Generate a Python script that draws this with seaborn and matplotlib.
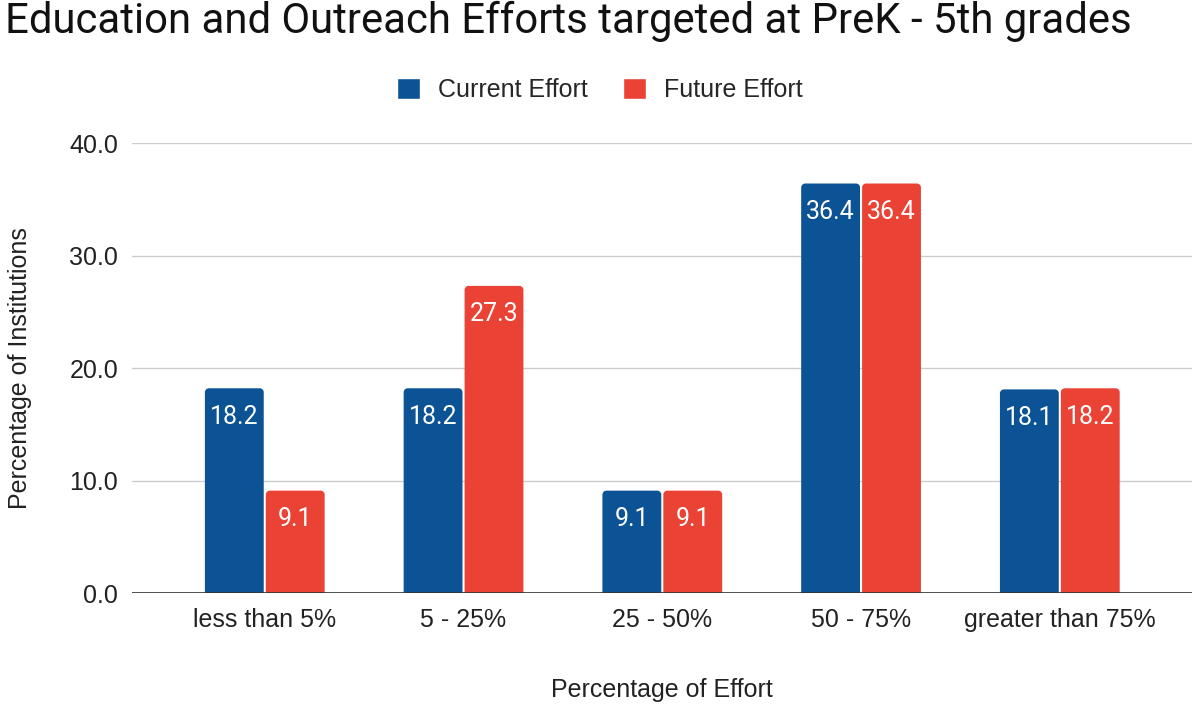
import matplotlib
matplotlib.use("Agg")
import matplotlib.pyplot as plt
from matplotlib.path import Path
from matplotlib.patches import PathPatch
import seaborn as sns
import pandas as pd

categories = ["less than 5%", "5 - 25%", "25 - 50%", "50 - 75%", "greater than 75%"]
current_effort = [18.2, 18.2, 9.1, 36.4, 18.1]
future_effort = [9.1, 27.3, 9.1, 36.4, 18.2]
series_names = ["Current Effort", "Future Effort"]
y_ticks = [0, 10, 20, 30, 40]

df = pd.DataFrame({
    "category": categories * 2,
    "value": current_effort + future_effort,
    "series": [series_names[0]] * len(categories) + [series_names[1]] * len(categories),
})

sns.set_theme(style="white")
plt.rcParams["font.family"] = ["Roboto", "DejaVu Sans"]
ARIAL = ["Liberation Sans", "DejaVu Sans"]

fig = plt.figure(figsize=(12, 7.08), dpi=100)
ax = fig.add_axes([0.11, 0.1624, 0.883, 0.6356])

palette = {"Current Effort": "#0b5394", "Future Effort": "#ea4335"}
sns.barplot(data=df, x="category", y="value", hue="series", order=categories,
            hue_order=series_names, palette=palette, width=0.613, gap=0.034,
            saturation=1, ax=ax, legend=True)

ax.set_ylim(0, 40)
ax.set_xlim(-0.668, 4.663)
ax.set_yticks(y_ticks)
ax.set_yticklabels([f"{t:.1f}" for t in y_ticks], fontsize=18, color="#222222",
                   family=ARIAL)
for lab in ax.get_xticklabels():
    lab.set_family(ARIAL)
ax.tick_params(axis="x", labelsize=18, colors="#222222", length=0, pad=11)
ax.tick_params(axis="y", length=0, pad=10)
ax.grid(axis="y", color="#cccccc", linewidth=1)
ax.set_axisbelow(True)
for s in ax.spines.values():
    s.set_visible(False)
ax.axhline(0, color="#333333", linewidth=1.2, zorder=5)

# rounded top corners for bars
fig.canvas.draw()
bb = ax.get_window_extent()
x0, x1 = ax.get_xlim()
y0, y1 = ax.get_ylim()
r_px = 4.0
rx = r_px * (x1 - x0) / bb.width
ry = r_px * (y1 - y0) / bb.height
k = 0.5523
for cont in ax.containers:
    for p in cont.patches:
        x, y, w, h = p.get_x(), p.get_y(), p.get_width(), p.get_height()
        verts = [(x, y), (x, y + h - ry),
                 (x, y + h - ry + k * ry), (x + rx - k * rx, y + h), (x + rx, y + h),
                 (x + w - rx, y + h),
                 (x + w - rx + k * rx, y + h), (x + w, y + h - ry + k * ry), (x + w, y + h - ry),
                 (x + w, y), (x, y)]
        codes = [Path.MOVETO, Path.LINETO,
                 Path.CURVE4, Path.CURVE4, Path.CURVE4,
                 Path.LINETO,
                 Path.CURVE4, Path.CURVE4, Path.CURVE4,
                 Path.LINETO, Path.CLOSEPOLY]
        pp = PathPatch(Path(verts, codes), facecolor=p.get_facecolor(),
                       edgecolor="none", zorder=p.get_zorder())
        ax.add_patch(pp)
        p.set_visible(False)

for cont in ax.containers:
    ax.bar_label(cont, fmt="%.1f", label_type="edge", padding=-29,
                 color="white", fontsize=18)

ax.set_xlabel("Percentage of Effort", fontsize=18, color="#222222", labelpad=33,
              family=ARIAL)
ax.set_ylabel("Percentage of Institutions", fontsize=18, color="#222222", labelpad=27,
              family=ARIAL)

ax.legend(loc="center", bbox_to_anchor=(0.5, 1 - 90 / 708), bbox_transform=fig.transFigure,
          ncol=2, frameon=False, prop={"family": ARIAL, "size": 18},
          handlelength=0.9, handleheight=0.9, columnspacing=1.4,
          handletextpad=0.75)

fig.text(0.004, 1 - 21 / 708, "Education and Outreach Efforts targeted at PreK - 5th grades",
         fontsize=30.2, color="#111111", ha="left", va="center")

fig.savefig("out.png", dpi=100)
